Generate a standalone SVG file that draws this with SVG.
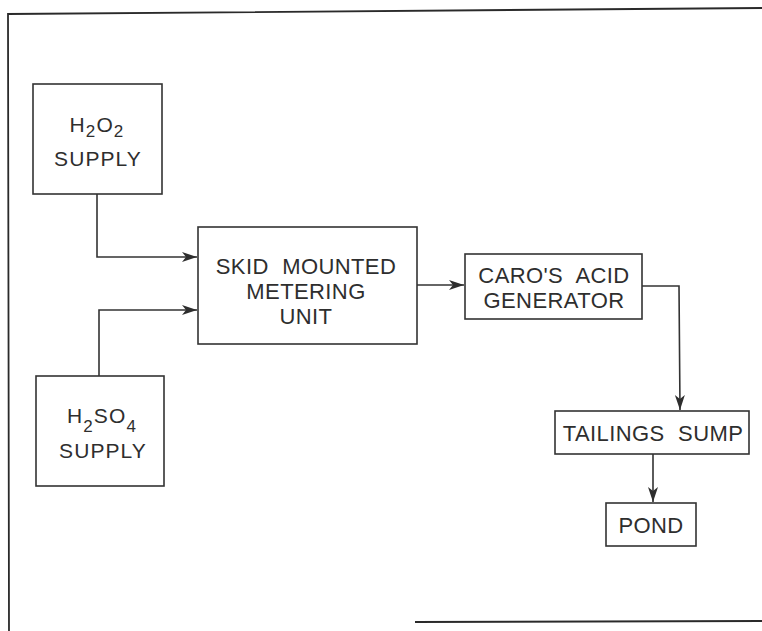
<svg xmlns="http://www.w3.org/2000/svg" width="762" height="631" viewBox="0 0 762 631">
<style>
.frame{fill:none;stroke:#2a2a2a;stroke-width:1.8}
.box{fill:none;stroke:#333;stroke-width:1.6}
.conn{fill:none;stroke:#333;stroke-width:1.6}
.t{font-family:"Liberation Sans",Arial,sans-serif;fill:#2e2e2e;text-anchor:middle}
.big{font-size:22px;word-spacing:7px;letter-spacing:0.4px}
.sm{font-size:21px;letter-spacing:1.1px}
</style>
<defs>
<marker id="arr" markerWidth="16" markerHeight="12" refX="15" refY="6" orient="auto" markerUnits="userSpaceOnUse">
<path d="M0,1 L15,6 L0,11 L4,6 Z" fill="#2e2e2e"/>
</marker>
</defs>
<rect width="762" height="631" fill="#fff"/>
<g id="frame">
<path class="frame" d="M9,631 L8,14 L762,8"/>
<path class="frame" d="M415,622 L762,621"/>
</g>
<g id="connectors">
<path class="conn" d="M97,194 L97,257 L197,257" marker-end="url(#arr)"/>
<path class="conn" d="M99,376 L99,310 L197,310" marker-end="url(#arr)"/>
<path class="conn" d="M417,285 L464,285" marker-end="url(#arr)"/>
<path class="conn" d="M642,286 L679,286 L680,410" marker-end="url(#arr)"/>
<path class="conn" d="M653,454 L653,502" marker-end="url(#arr)"/>
</g>
<g id="h2o2">
<rect class="box" x="33" y="84" width="129" height="110"/>
<text class="t sm" x="97" y="132">H<tspan font-size="17" dy="5">2</tspan><tspan dy="-5">O</tspan><tspan font-size="17" dy="5">2</tspan></text>
<text class="t sm" x="98" y="166">SUPPLY</text>
</g>
<g id="h2so4">
<rect class="box" x="36" y="376" width="128" height="110"/>
<text class="t sm" x="102" y="423">H<tspan font-size="17" dy="9">2</tspan><tspan dy="-9">SO</tspan><tspan font-size="17" dy="9">4</tspan></text>
<text class="t sm" x="103" y="458">SUPPLY</text>
</g>
<g id="skid">
<rect class="box" x="198" y="227" width="219" height="117"/>
<text class="t big" x="306" y="274">SKID MOUNTED</text>
<text class="t big" x="306" y="299">METERING</text>
<text class="t big" x="306" y="324">UNIT</text>
</g>
<g id="caro">
<rect class="box" x="465" y="254" width="177" height="65"/>
<text class="t big" x="554" y="283">CARO'S ACID</text>
<text class="t big" x="554" y="308">GENERATOR</text>
</g>
<g id="tailings">
<rect class="box" x="555" y="411" width="194" height="43"/>
<text class="t big" x="653" y="441">TAILINGS SUMP</text>
</g>
<g id="pond">
<rect class="box" x="606" y="503" width="90" height="43"/>
<text class="t big" x="651" y="533">POND</text>
</g>
</svg>
